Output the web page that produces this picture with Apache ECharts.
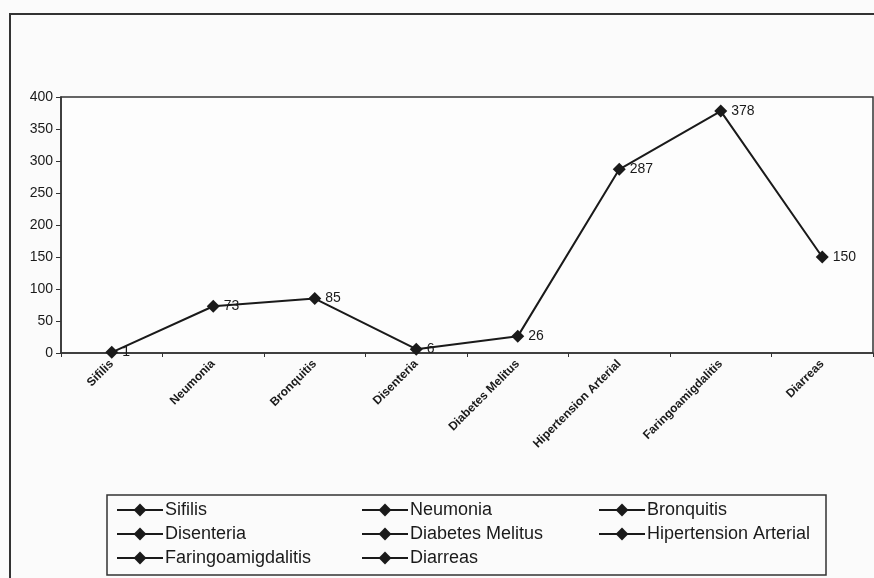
<!DOCTYPE html>
<html>
<head>
<meta charset="utf-8">
<script src="https://cdn.jsdelivr.net/npm/echarts@6/dist/echarts.min.js"></script>
<style>html,body{margin:0;padding:0;background:#fbfbfb;}#c{width:874px;height:578px;}</style>
</head>
<body>
<div id="c"></div>
<script>
const categories = ['Sifilis', 'Neumonia', 'Bronquitis', 'Disenteria', 'Diabetes Melitus', 'Hipertension Arterial', 'Faringoamigdalitis', 'Diarreas'];
const values = [1, 73, 85, 6, 26, 287, 378, 150];
const yTicks = [0, 50, 100, 150, 200, 250, 300, 350, 400];

const FONT = '"Liberation Sans", Arial, sans-serif';
const INK = '#1a1a1a';

const legendCols = [
  [categories[0], categories[3], categories[6]],
  [categories[1], categories[4], categories[7]],
  [categories[2], categories[5]]
];
const legendLeft = [111, 356, 593];

const chart = echarts.init(document.getElementById('c'));

const legendSeries = categories.map(name => ({
  name: name,
  type: 'line',
  data: [],
  symbol: 'diamond',
  symbolSize: 12,
  itemStyle: { color: INK },
  lineStyle: { color: INK, width: 2 }
}));

chart.setOption({
  backgroundColor: '#fbfbfb',
  animation: false,
  graphic: [
    { type: 'rect', shape: { x: 10, y: 14, width: 900, height: 620 }, style: { fill: 'none', stroke: '#333', lineWidth: 2 }, silent: true },
    { type: 'rect', shape: { x: 107, y: 495, width: 719, height: 80 }, style: { fill: 'none', stroke: '#333', lineWidth: 1.5 }, silent: true }
  ],
  grid: {
    left: 61, top: 97, right: 1, bottom: 225,
    show: true, borderColor: '#333', borderWidth: 1.5, backgroundColor: '#fdfdfd'
  },
  legend: legendCols.map((col, i) => ({
    data: col,
    orient: 'vertical',
    left: legendLeft[i],
    top: 496,
    itemWidth: 46,
    itemHeight: 16,
    itemGap: 6,
    selectedMode: false,
    textStyle: { fontFamily: FONT, fontSize: 18, color: INK, padding: [0, 0, 0, -3] }
  })),
  xAxis: {
    type: 'category',
    data: categories,
    boundaryGap: true,
    axisLine: { lineStyle: { color: '#333', width: 1.5 } },
    axisTick: { show: true, length: 4, lineStyle: { color: '#333' } },
    axisLabel: { rotate: 45, fontFamily: FONT, fontSize: 12, color: INK, margin: 9, interval: 0, fontWeight: 'bold' }
  },
  yAxis: {
    type: 'value',
    min: yTicks[0],
    max: yTicks[yTicks.length - 1],
    interval: yTicks[1] - yTicks[0],
    splitLine: { show: false },
    axisLine: { show: true, lineStyle: { color: '#333', width: 1.5 } },
    axisTick: { show: true, length: 5, lineStyle: { color: '#333' } },
    axisLabel: { fontFamily: FONT, fontSize: 14, color: INK, margin: 8 }
  },
  series: [
    {
      name: 'valores',
      type: 'line',
      data: values,
      symbol: 'diamond',
      symbolSize: 13,
      itemStyle: { color: INK },
      lineStyle: { color: INK, width: 2 },
      label: { show: true, position: 'right', distance: 4, fontFamily: FONT, fontSize: 14, color: INK }
    }
  ].concat(legendSeries)
});
</script>
</body>
</html>
